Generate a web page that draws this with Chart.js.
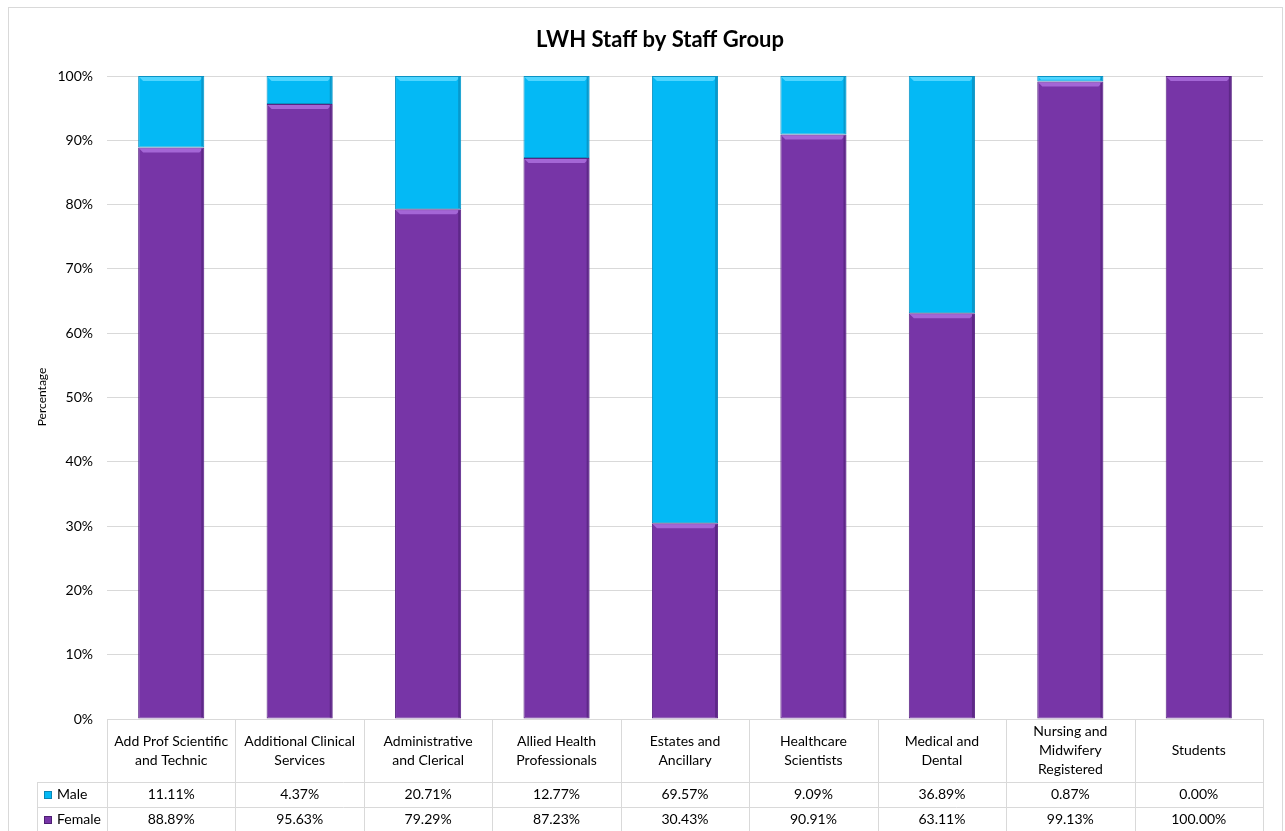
<!DOCTYPE html>
<html>
<head>
<meta charset="utf-8">
<script src="https://cdn.jsdelivr.net/npm/chart.js@4"></script>
<style>
  html, body { margin: 0; padding: 0; background: #fff; }
  #wrap { width: 1285px; height: 831px; position: relative; }
</style>
</head>
<body>
<div id="wrap"><canvas id="chart"></canvas></div>
<script>
// datos del grafico
var categories = [
    ['Add Prof Scientific', 'and Technic'],
    ['Additional Clinical', 'Services'],
    ['Administrative', 'and Clerical'],
    ['Allied Health', 'Professionals'],
    ['Estates and', 'Ancillary'],
    ['Healthcare', 'Scientists'],
    ['Medical and', 'Dental'],
    ['Nursing and', 'Midwifery', 'Registered'],
    ['Students']
];
var maleValues = [11.11, 4.37, 20.71, 12.77, 69.57, 9.09, 36.89, 0.87, 0.00];
var femaleValues = [88.89, 95.63, 79.29, 87.23, 30.43, 90.91, 63.11, 99.13, 100.00];
var seriesNames = ['Male', 'Female'];
var yTicks = [0, 10, 20, 30, 40, 50, 60, 70, 80, 90, 100];

var FONT = 'Lato, "Open Sans", sans-serif';
var PURPLE = '#7735A7';
var CYAN = '#04B9F5';

// marco, titulo, etiqueta del eje y
var framePlugin = {
    id: 'frame',
    beforeDraw: function (chart) {
        var ctx = chart.ctx;
        ctx.save();
        ctx.fillStyle = '#fff';
        ctx.fillRect(0, 0, chart.width, chart.height);
        ctx.strokeStyle = '#D9D9D9';
        ctx.lineWidth = 1;
        ctx.strokeRect(8.5, 7.5, 1274, 830);
        ctx.restore();
    },
    afterDraw: function (chart) {
        var ctx = chart.ctx;
        ctx.save();
        ctx.fillStyle = '#000';
        ctx.font = 'bold 22px ' + FONT;
        ctx.textAlign = 'center';
        ctx.textBaseline = 'middle';
        ctx.fillText('LWH Staff by Staff Group', 660, 40);
        ctx.font = '12px ' + FONT;
        ctx.translate(42, 397);
        ctx.rotate(-Math.PI / 2);
        ctx.fillText('Percentage', 0, 0);
        ctx.restore();
    }
};

// brillo en el borde superior de cada segmento
var bevelPlugin = {
    id: 'bevel',
    afterDatasetsDraw: function (chart) {
        var ctx = chart.ctx;
        ctx.save();
        chart.data.datasets.forEach(function (ds, di) {
            var meta = chart.getDatasetMeta(di);
            meta.data.forEach(function (bar, i) {
                if (ds.data[i] <= 0) return;
                var left = bar.x - bar.width / 2;
                var right = bar.x + bar.width / 2;
                var top = Math.min(bar.y, bar.base);
                var h = Math.abs(bar.base - bar.y);
                var bh = Math.min(4, h / 2);
                ctx.fillStyle = ds.lightColor;
                ctx.beginPath();
                ctx.moveTo(left + 1, top + 1);
                ctx.lineTo(right - 1, top + 1);
                ctx.lineTo(right - 1 - bh, top + 1 + bh);
                ctx.lineTo(left + 1 + bh, top + 1 + bh);
                ctx.closePath();
                ctx.fill();
                // sombra a la derecha
                ctx.fillStyle = ds.shadeColor;
                ctx.fillRect(right - 3, top + 1, 2, h - 2);
            });
        });
        ctx.restore();
    }
};

// tabla de datos bajo el grafico
var tablePlugin = {
    id: 'dataTable',
    afterDraw: function (chart) {
        var ctx = chart.ctx;
        var x = chart.scales.x;
        var area = chart.chartArea;
        var n = categories.length;
        var step = (area.right - area.left) / n;
        var top = area.bottom;
        var headBottom = top + 63;
        var row1 = headBottom + 25;
        var row2 = row1 + 25;
        var legendLeft = 37;
        ctx.save();
        ctx.strokeStyle = '#D9D9D9';
        ctx.lineWidth = 1;
        ctx.beginPath();
        ctx.moveTo(area.left, top + 0.5);
        ctx.lineTo(area.right, top + 0.5);
        ctx.moveTo(legendLeft, Math.round(headBottom) + 0.5);
        ctx.lineTo(area.right, Math.round(headBottom) + 0.5);
        ctx.moveTo(legendLeft, Math.round(row1) + 0.5);
        ctx.lineTo(area.right, Math.round(row1) + 0.5);
        ctx.moveTo(legendLeft, Math.round(row2) + 0.5);
        ctx.lineTo(area.right, Math.round(row2) + 0.5);
        for (var i = 0; i <= n; i++) {
            var vx = Math.round(area.left + step * i) + 0.5;
            ctx.moveTo(vx, top);
            ctx.lineTo(vx, row2 + 2);
        }
        ctx.moveTo(legendLeft + 0.5, headBottom);
        ctx.lineTo(legendLeft + 0.5, row2 + 2);
        ctx.stroke();

        ctx.fillStyle = '#000';
        ctx.font = '14px ' + FONT;
        ctx.textAlign = 'center';
        ctx.textBaseline = 'middle';
        var mid = (top + headBottom) / 2;
        categories.forEach(function (lines, i) {
            var cx = x.getPixelForValue(i);
            var start = mid - (lines.length - 1) * 19 / 2;
            lines.forEach(function (t, j) {
                ctx.fillText(t, cx, start + j * 19);
            });
            ctx.fillText(maleValues[i].toFixed(2) + '%', cx, (headBottom + row1) / 2);
            ctx.fillText(femaleValues[i].toFixed(2) + '%', cx, (row1 + row2) / 2);
        });

        // claves de leyenda
        var keyColors = [CYAN, PURPLE];
        var rowMids = [(headBottom + row1) / 2, (row1 + row2) / 2];
        ctx.textAlign = 'left';
        seriesNames.forEach(function (name, k) {
            var ky = Math.round(rowMids[k]) - 4;
            ctx.fillStyle = keyColors[k];
            ctx.fillRect(44, ky, 8, 8);
            ctx.strokeStyle = k === 0 ? '#0A86B5' : '#4E1F73';
            ctx.strokeRect(44.5, ky + 0.5, 7, 7);
            ctx.fillStyle = '#000';
            ctx.fillText(name, 57, rowMids[k]);
        });
        ctx.restore();
    }
};

var ctx = document.getElementById('chart').getContext('2d');
var chart = new Chart(ctx, {
    type: 'bar',
    data: {
        labels: categories.map(function (c) { return c.join(' '); }),
        datasets: [
            {
                label: seriesNames[1],
                data: femaleValues,
                backgroundColor: PURPLE,
                borderColor: '#5A2585',
                lightColor: '#A466D6',
                shadeColor: '#5E2888',
                borderWidth: 1,
                borderSkipped: false
            },
            {
                label: seriesNames[0],
                data: maleValues,
                backgroundColor: CYAN,
                borderColor: '#0A93C4',
                lightColor: '#4FD5FF',
                shadeColor: '#0899CC',
                borderWidth: 1,
                borderSkipped: false
            }
        ]
    },
    options: {
        responsive: true,
        maintainAspectRatio: false,
        animation: false,
        layout: { padding: { top: 76, right: 22, bottom: 112, left: 0 } },
        plugins: {
            legend: { display: false },
            title: { display: false },
            tooltip: { enabled: false }
        },
        datasets: { bar: { barPercentage: 0.515, categoryPercentage: 1 } },
        scales: {
            x: {
                stacked: true,
                display: false,
                offset: true
            },
            y: {
                stacked: true,
                min: 0,
                max: 100,
                afterFit: function (scale) { scale.width = 107; },
                afterBuildTicks: function (scale) {
                    scale.ticks = yTicks.map(function (v) { return { value: v }; });
                },
                border: { display: false },
                grid: { color: '#D9D9D9', drawTicks: false },
                ticks: {
                    padding: 14,
                    color: '#000',
                    font: { family: FONT, size: 14 },
                    callback: function (v) { return v + '%'; }
                }
            }
        }
    },
    plugins: [framePlugin, bevelPlugin, tablePlugin]
});
</script>
</body>
</html>
